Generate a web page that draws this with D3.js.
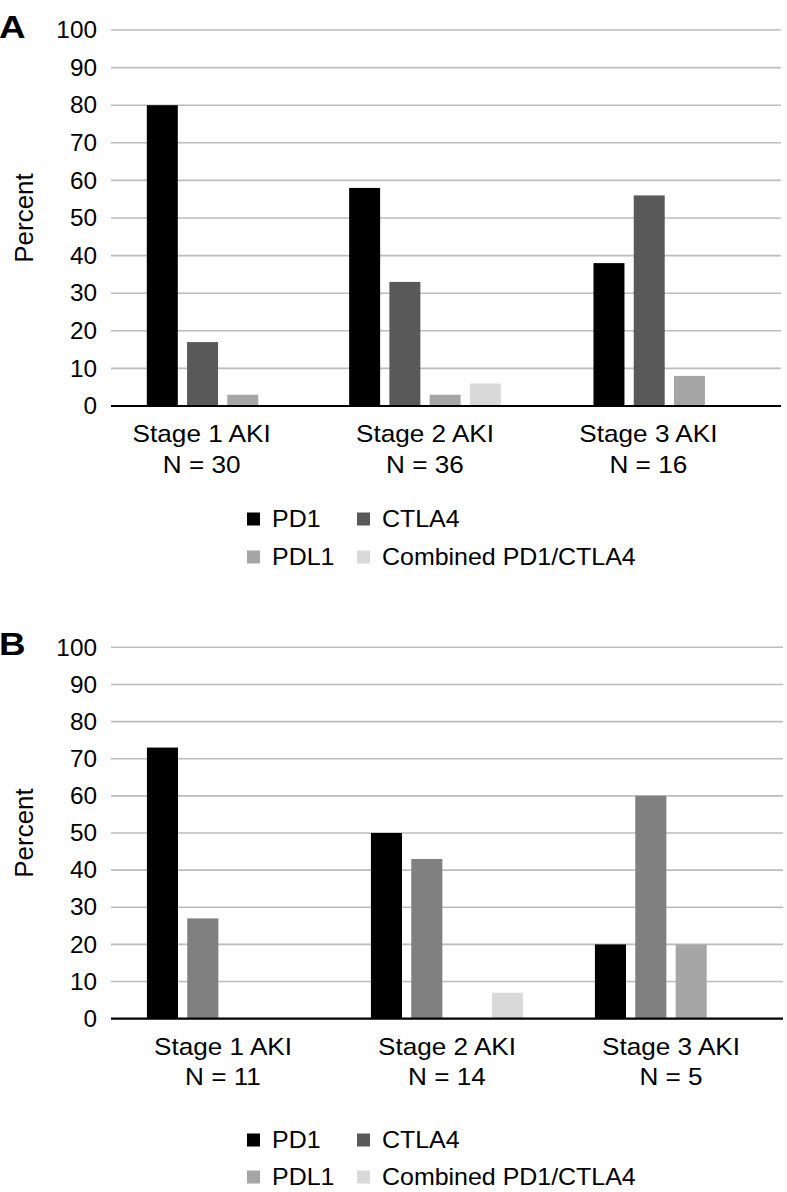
<!DOCTYPE html>
<html>
<head>
<meta charset="utf-8">
<script src="https://cdn.jsdelivr.net/npm/d3@7"></script>
<style>
  html, body { margin: 0; padding: 0; background: #fff; }
  svg { display: block; font-family: "Liberation Sans", Arial, Helvetica, sans-serif; }
</style>
</head>
<body>
<svg id="chart" width="787" height="1192"></svg>
<script>
// ---------- data ----------
const categories = ["Stage 1 AKI", "Stage 2 AKI", "Stage 3 AKI"];
const seriesNames = ["PD1", "CTLA4", "PDL1", "Combined PD1/CTLA4"];
const yTickValues = [0, 10, 20, 30, 40, 50, 60, 70, 80, 90, 100];

// Panel A
const nLabelsA = ["N = 30", "N = 36", "N = 16"];
const pd1A   = [80, 58, 38];
const ctla4A = [17, 33, 56];
const pdl1A  = [3, 3, 8];
const combA  = [0, 6, 0];

// Panel B
const nLabelsB = ["N = 11", "N = 14", "N = 5"];
const pd1B   = [73, 50, 20];
const ctla4B = [27, 43, 60];
const pdl1B  = [0, 0, 20];
const combB  = [0, 7, 0];

// ---------- styles ----------
const legendColors = ["#000000", "#595959", "#a6a6a6", "#d9d9d9"];
const barColorsA   = ["#000000", "#595959", "#a6a6a6", "#d9d9d9"];
const barColorsB   = ["#000000", "#808080", "#a6a6a6", "#d9d9d9"];

const panels = [
  { letter: "A", values: [pd1A, ctla4A, pdl1A, combA], nLabels: nLabelsA, colors: barColorsA,
    top: 30, bottom: 406, left: 111, right: 781, letterY: 38,
    legendY: [519, 557], groupShift: [0, -21, 0], labelShift: -21 },
  { letter: "B", values: [pd1B, ctla4B, pdl1B, combB], nLabels: nLabelsB, colors: barColorsB,
    top: 647.3, bottom: 1018.7, left: 111, right: 783, letterY: 655,
    legendY: [1140, 1177], groupShift: [0, 0, 0], labelShift: 0 }
];

const svg = d3.select("#chart");

// text helper with slight horizontal stretch (as in the reference)
function stretchedText(sel, x, y, str, size, sx, anchor, weight) {
  const t = sel.append("text")
    .attr("transform", `translate(${x},${y}) scale(${sx},1)`)
    .attr("font-size", size)
    .attr("text-anchor", anchor || "start")
    .text(str);
  if (weight) t.attr("font-weight", weight);
  return t;
}

panels.forEach(p => {
  const g = svg.append("g");
  const y = d3.scaleLinear().domain([0, 100]).range([p.bottom, p.top]);
  const x0 = d3.scaleBand().domain(categories).range([p.left, p.right]).paddingInner(0).paddingOuter(0);
  const x1 = d3.scaleBand().domain(seriesNames).range([0, x0.bandwidth()])
               .paddingInner(0.23).paddingOuter(0.89);

  // gridlines
  g.append("g").selectAll("line")
    .data(yTickValues.filter(v => v > 0))
    .join("line")
    .attr("x1", p.left).attr("x2", p.right)
    .attr("y1", d => y(d)).attr("y2", d => y(d))
    .attr("stroke", "#bcbcbc").attr("stroke-width", 1.6);

  // y tick labels
  const tickG = g.append("g");
  yTickValues.forEach(v => {
    stretchedText(tickG, p.left - 14, y(v) + 8.2, String(v), 23, 1.06, "end");
  });

  // bars
  const barData = [];
  categories.forEach((c, ci) => {
    seriesNames.forEach((s, si) => {
      barData.push({ c, ci, s, si, v: p.values[si][ci] });
    });
  });
  g.append("g").selectAll("rect")
    .data(barData.filter(d => d.v > 0))
    .join("rect")
    .attr("x", d => x0(d.c) + x1(d.s) + p.groupShift[d.ci])
    .attr("width", x1.bandwidth())
    .attr("y", d => y(d.v))
    .attr("height", d => y(0) - y(d.v))
    .attr("fill", d => p.colors[d.si]);

  // x axis line
  g.append("line")
    .attr("x1", p.left).attr("x2", p.right)
    .attr("y1", y(0)).attr("y2", y(0))
    .attr("stroke", "#000").attr("stroke-width", 2.2);

  // category labels
  const labG = g.append("g");
  categories.forEach((c, i) => {
    const cx = x0(c) + x0.bandwidth() / 2 + p.labelShift;
    stretchedText(labG, cx, y(0) + 36, c, 24, 1.09, "middle");
    stretchedText(labG, cx, y(0) + 66.5, p.nLabels[i], 24, 1.09, "middle");
  });

  // y axis title
  g.append("text")
    .attr("transform", `translate(33,${(p.top + p.bottom) / 2}) rotate(-90) scale(1.04,1)`)
    .attr("text-anchor", "middle").attr("font-size", 25).text("Percent");

  // panel letter
  stretchedText(g, -1, p.letterY, p.letter, 32, 1.15, "start", "bold");

  // legend (2 x 2)
  const legX = [247, 357];
  const legTextX = [272, 382];
  seriesNames.forEach((s, i) => {
    const ry = p.legendY[Math.floor(i / 2)];
    g.append("rect")
      .attr("x", legX[i % 2]).attr("y", ry - 6.5)
      .attr("width", 13).attr("height", 13)
      .attr("fill", legendColors[i]);
    stretchedText(g, legTextX[i % 2], ry + 8.3, s, 24, 1.04, "start");
  });
});
</script>
</body>
</html>
